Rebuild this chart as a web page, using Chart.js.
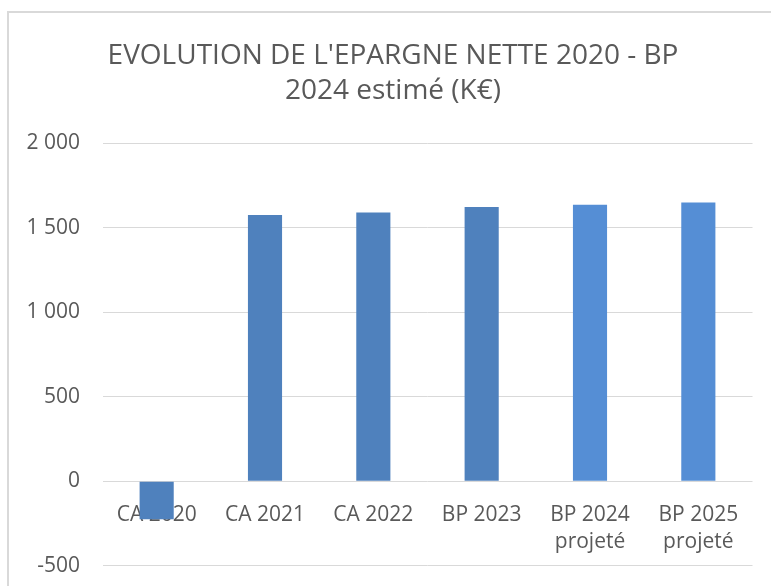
<!DOCTYPE html>
<html>
<head>
<meta charset="utf-8">
<script src="https://cdn.jsdelivr.net/npm/chart.js@4"></script>
<style>
  html, body { margin: 0; padding: 0; background: #fff; }
  #wrap { position: relative; width: 771px; height: 586px; overflow: hidden; }
  #frame { position: absolute; left: 7px; top: 11px; width: 820px; height: 640px;
           border: 2px solid #d9d9d9; pointer-events: none; }
  canvas { position: absolute; left: 0; top: 0; }
</style>
</head>
<body>
<div id="wrap">
  <canvas id="chart" width="786" height="601"></canvas>
  <div id="frame"></div>
</div>
<script>
// Epargne nette (K€)
const categories = ["CA 2020", "CA 2021", "CA 2022", "BP 2023", ["BP 2024", "projeté"], ["BP 2025", "projeté"]];
const values = [-224, 1575, 1589, 1621, 1635, 1649];
const barColors = ["#4f81bd", "#4f81bd", "#4f81bd", "#4f81bd", "#558ed5", "#558ed5"];
const yTicks = [-500, 0, 500, 1000, 1500, 2000];

const textColor = "#595959";
const fontFamily = "'Open Sans', sans-serif";

// "2 000" style
function frNumber(v) {
  return String(Math.abs(v)).replace(/\B(?=(\d{3})+(?!\d))/g, " ").replace(/^/, v < 0 ? "-" : "");
}

const ctx = document.getElementById("chart").getContext("2d");
new Chart(ctx, {
  type: "bar",
  data: {
    labels: categories,
    datasets: [{
      data: values,
      backgroundColor: barColors,
      borderWidth: 0,
      barPercentage: 0.315,
      categoryPercentage: 1
    }]
  },
  options: {
    responsive: false,
    animation: false,
    layout: { padding: 0 },
    plugins: {
      legend: { display: false },
      tooltip: { enabled: false },
      title: {
        display: true,
        text: ["EVOLUTION DE L'EPARGNE NETTE 2020 - BP", "2024 estimé (K€)"],
        color: textColor,
        font: { family: fontFamily, size: 28, weight: "normal", lineHeight: 1.25 },
        padding: { top: 38.5, bottom: 34.5 }
      }
    },
    scales: {
      x: {
        position: { y: 0 },
        z: 1,
        grid: { display: false, drawTicks: false },
        border: { display: false },
        ticks: {
          color: textColor,
          padding: 21,
          maxRotation: 0,
          autoSkip: false,
          font: { family: fontFamily, size: 21, lineHeight: 1.25 }
        },
        afterFit: s => { s.height = 0; }
      },
      y: {
        min: -500,
        max: 2000,
        afterBuildTicks: s => { s.ticks = yTicks.map(v => ({ value: v })); },
        grid: { color: "#d9d9d9", lineWidth: 1, drawTicks: false },
        border: { display: false },
        ticks: {
          color: textColor,
          padding: 22.5,
          font: { family: fontFamily, size: 21 },
          callback: v => frNumber(v)
        },
        afterFit: s => { s.width = 102.5; }
      },
      // empty right box, keeps the title centred on the whole frame
      yRight: {
        position: "right",
        grid: { display: false, drawTicks: false },
        border: { display: false },
        ticks: { display: false },
        afterFit: s => { s.width = 33.5; }
      }
    }
  }
});
</script>
</body>
</html>
